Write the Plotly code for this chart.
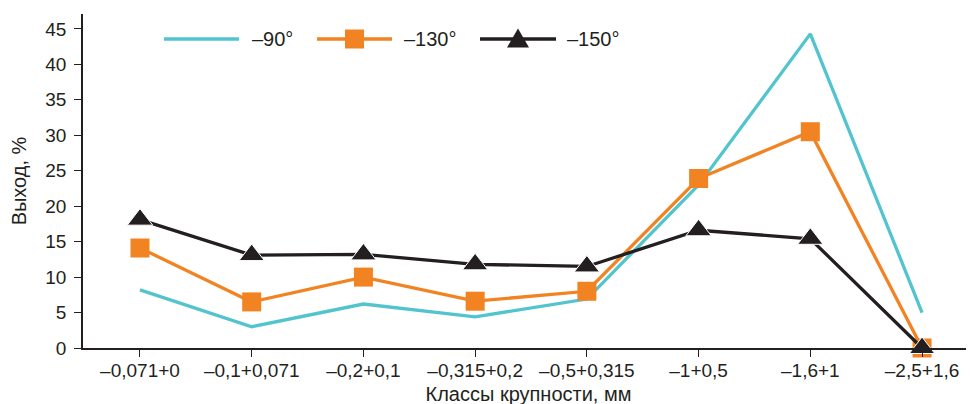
import plotly.graph_objects as go

categories = ["\u20130,071+0", "\u20130,1+0,071", "\u20130,2+0,1", "\u20130,315+0,2",
              "\u20130,5+0,315", "\u20131+0,5", "\u20131,6+1", "\u20132,5+1,6"]
series_names = ["\u201390°", "\u2013130°", "\u2013150°"]
y_90 = [8.2, 3.0, 6.2, 4.4, 6.9, 23.0, 44.3, 5.0]
y_130 = [14.1, 6.5, 10.0, 6.6, 8.0, 23.9, 30.5, 0.0]
y_150 = [18.1, 13.1, 13.2, 11.8, 11.5, 16.6, 15.4, 0.0]
y_ticks = [0, 5, 10, 15, 20, 25, 30, 35, 40, 45]

CYAN = "#52C4CE"
ORANGE = "#F28322"
DARK = "#231F20"
FONT = "Liberation Sans, Arial, Helvetica, sans-serif"

fig = go.Figure()
fig.add_trace(go.Scatter(x=categories, y=y_90, mode="lines", name=series_names[0],
                         line=dict(color=CYAN, width=3.3), cliponaxis=False))
fig.add_trace(go.Scatter(x=categories, y=y_130, mode="lines+markers", name=series_names[1],
                         line=dict(color=ORANGE, width=3.3),
                         marker=dict(symbol="square", size=19, color=ORANGE,
                                     line=dict(width=0)), cliponaxis=False))
fig.add_trace(go.Scatter(x=categories, y=y_150, mode="lines+markers", name=series_names[2],
                         line=dict(color=DARK, width=3.3),
                         marker=dict(symbol="triangle-up", size=22, color=DARK,
                                     line=dict(width=1, color="white")), cliponaxis=False))

# plot area in page px: x 83..974 (891 wide), y 14..348 (334 tall)
def px_x(p):
    return (p - 83) / 891.0

def px_y(p):
    return (348 - p) / 334.0

ly = px_y(39)
legend_items = [
    (164, 239, CYAN, None, 250),
    (317, 392, ORANGE, "square", 402),
    (480, 556, DARK, "triangle", 565),
]
shapes = []
annotations = []
for (x0, x1, col, mk, tx), name in zip(legend_items, series_names):
    shapes.append(dict(type="line", xref="paper", yref="paper", x0=px_x(x0), x1=px_x(x1),
                       y0=ly, y1=ly, line=dict(color=col, width=3.3)))
    xc = (x0 + x1) / 2
    if mk == "square":
        shapes.append(dict(type="rect", xref="paper", yref="paper",
                           x0=px_x(xc - 9.5), x1=px_x(xc + 9.5), y0=px_y(39 + 9.5), y1=px_y(39 - 9.5),
                           fillcolor=col, line=dict(width=0)))
    elif mk == "triangle":
        path = "M {a},{b} L {c},{b} L {d},{e} Z".format(a=px_x(xc - 11), b=px_y(47.5),
                                                         c=px_x(xc + 11), d=px_x(xc), e=px_y(28.5))
        shapes.append(dict(type="path", xref="paper", yref="paper", path=path,
                           fillcolor=col, line=dict(width=0)))
    annotations.append(dict(xref="paper", yref="paper", x=px_x(tx), y=ly, text=name,
                            showarrow=False, xanchor="left", yanchor="middle",
                            font=dict(size=20, color=DARK, family=FONT)))

fig.update_layout(
    width=974, height=404,
    margin=dict(l=75, r=8, t=6, b=64),
    paper_bgcolor="white", plot_bgcolor="white",
    showlegend=False,
    font=dict(family=FONT, color=DARK, size=19),
    shapes=shapes, annotations=annotations,
    xaxis=dict(
        type="category", range=[-0.51, 7.465],
        showgrid=False, zeroline=False,
        showline=True, linecolor=DARK, linewidth=1.5,
        ticks="outside", ticklen=7, tickwidth=1.3, tickcolor=DARK,
        tickfont=dict(size=19, color=DARK, family=FONT),
        ticklabelstandoff=-3,
        title=dict(text="Классы крупности, мм", font=dict(size=20, color=DARK, family=FONT),
                   standoff=7),
        automargin=False,
    ),
    yaxis=dict(
        range=[0, 47.1], tickvals=y_ticks,
        showgrid=False, zeroline=False,
        showline=True, linecolor=DARK, linewidth=1.5,
        ticks="outside", ticklen=7, tickwidth=1.3, tickcolor=DARK,
        tickfont=dict(size=19, color=DARK, family=FONT),
        ticklabelstandoff=4,
        title=dict(text="Выход, %", font=dict(size=20, color=DARK, family=FONT), standoff=13),
        automargin=False,
    ),
)

fig.write_html("out.html")
